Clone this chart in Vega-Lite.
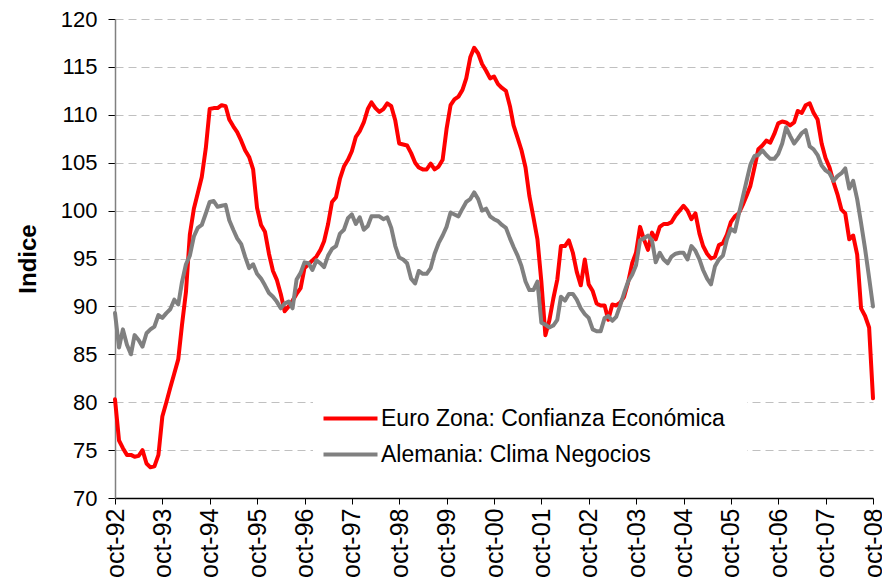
{
  "$schema": "https://vega.github.io/schema/vega-lite/v6.json",
  "width": 758,
  "height": 479,
  "autosize": {"type": "none"},
  "padding": {"left": 115, "top": 19, "right": 9, "bottom": 89},
  "background": "white",
  "config": {"view": {"stroke": null}, "font": "Liberation Sans"},
  "data": {"values": [
    {"fecha":"1992-10","ez":80.3,"de":89.3},{"fecha":"1992-11","ez":76.0,"de":85.7},{"fecha":"1992-12","ez":75.2,"de":87.6},
    {"fecha":"1993-01","ez":74.5,"de":86.0},{"fecha":"1993-02","ez":74.5,"de":85.0},{"fecha":"1993-03","ez":74.3,"de":87.0},{"fecha":"1993-04","ez":74.4,"de":86.5},{"fecha":"1993-05","ez":75.0,"de":85.8},{"fecha":"1993-06","ez":73.6,"de":87.2},{"fecha":"1993-07","ez":73.2,"de":87.6},{"fecha":"1993-08","ez":73.3,"de":87.9},{"fecha":"1993-09","ez":74.5,"de":89.1},{"fecha":"1993-10","ez":78.5,"de":88.8},{"fecha":"1993-11","ez":80.0,"de":89.3},{"fecha":"1993-12","ez":81.5,"de":89.7},
    {"fecha":"1994-01","ez":83.0,"de":90.7},{"fecha":"1994-02","ez":84.5,"de":90.2},{"fecha":"1994-03","ez":88.0,"de":92.5},{"fecha":"1994-04","ez":91.5,"de":94.4},{"fecha":"1994-05","ez":97.5,"de":95.3},{"fecha":"1994-06","ez":100.2,"de":97.3},{"fecha":"1994-07","ez":101.8,"de":98.2},{"fecha":"1994-08","ez":103.5,"de":98.5},{"fecha":"1994-09","ez":106.5,"de":99.7},{"fecha":"1994-10","ez":110.6,"de":100.9},{"fecha":"1994-11","ez":110.7,"de":101.0},{"fecha":"1994-12","ez":110.7,"de":100.4},
    {"fecha":"1995-01","ez":111.0,"de":100.5},{"fecha":"1995-02","ez":110.9,"de":100.6},{"fecha":"1995-03","ez":109.5,"de":99.0},{"fecha":"1995-04","ez":108.8,"de":98.0},{"fecha":"1995-05","ez":108.2,"de":97.1},{"fecha":"1995-06","ez":107.3,"de":96.5},{"fecha":"1995-07","ez":106.3,"de":95.2},{"fecha":"1995-08","ez":105.6,"de":94.0},{"fecha":"1995-09","ez":104.3,"de":94.4},{"fecha":"1995-10","ez":100.3,"de":93.4},{"fecha":"1995-11","ez":98.5,"de":92.9},{"fecha":"1995-12","ez":97.8,"de":92.2},
    {"fecha":"1996-01","ez":95.5,"de":91.4},{"fecha":"1996-02","ez":93.7,"de":91.0},{"fecha":"1996-03","ez":92.8,"de":90.5},{"fecha":"1996-04","ez":91.3,"de":89.8},{"fecha":"1996-05","ez":89.5,"de":90.3},{"fecha":"1996-06","ez":90.0,"de":90.5},{"fecha":"1996-07","ez":90.6,"de":89.8},{"fecha":"1996-08","ez":91.3,"de":92.8},{"fecha":"1996-09","ez":91.9,"de":93.5},{"fecha":"1996-10","ez":94.0,"de":94.6},{"fecha":"1996-11","ez":94.4,"de":94.5},{"fecha":"1996-12","ez":94.8,"de":93.8},
    {"fecha":"1997-01","ez":95.2,"de":94.8},{"fecha":"1997-02","ez":95.9,"de":94.5},{"fecha":"1997-03","ez":96.8,"de":94.1},{"fecha":"1997-04","ez":98.6,"de":95.3},{"fecha":"1997-05","ez":100.9,"de":96.0},{"fecha":"1997-06","ez":101.4,"de":96.3},{"fecha":"1997-07","ez":103.3,"de":97.6},{"fecha":"1997-08","ez":104.6,"de":98.0},{"fecha":"1997-09","ez":105.3,"de":99.2},{"fecha":"1997-10","ez":106.2,"de":99.6},{"fecha":"1997-11","ez":107.7,"de":98.6},{"fecha":"1997-12","ez":108.3,"de":99.3},
    {"fecha":"1998-01","ez":109.2,"de":98.0},{"fecha":"1998-02","ez":110.6,"de":98.4},{"fecha":"1998-03","ez":111.3,"de":99.4},{"fecha":"1998-04","ez":110.7,"de":99.4},{"fecha":"1998-05","ez":110.3,"de":99.4},{"fecha":"1998-06","ez":110.6,"de":99.1},{"fecha":"1998-07","ez":111.2,"de":99.3},{"fecha":"1998-08","ez":110.9,"de":98.2},{"fecha":"1998-09","ez":109.4,"de":96.3},{"fecha":"1998-10","ez":107.0,"de":95.1},{"fecha":"1998-11","ez":106.9,"de":94.9},{"fecha":"1998-12","ez":106.8,"de":94.5},
    {"fecha":"1999-01","ez":106.0,"de":92.9},{"fecha":"1999-02","ez":105.0,"de":92.4},{"fecha":"1999-03","ez":104.5,"de":93.7},{"fecha":"1999-04","ez":104.3,"de":93.4},{"fecha":"1999-05","ez":104.3,"de":93.4},{"fecha":"1999-06","ez":104.9,"de":94.0},{"fecha":"1999-07","ez":104.3,"de":95.5},{"fecha":"1999-08","ez":104.6,"de":96.6},{"fecha":"1999-09","ez":105.3,"de":97.4},{"fecha":"1999-10","ez":108.5,"de":98.3},{"fecha":"1999-11","ez":111.0,"de":99.8},{"fecha":"1999-12","ez":111.6,"de":99.6},
    {"fecha":"2000-01","ez":111.9,"de":99.4},{"fecha":"2000-02","ez":112.6,"de":100.2},{"fecha":"2000-03","ez":113.8,"de":100.9},{"fecha":"2000-04","ez":116.0,"de":101.2},{"fecha":"2000-05","ez":117.0,"de":101.9},{"fecha":"2000-06","ez":116.4,"de":101.2},{"fecha":"2000-07","ez":115.3,"de":100.0},{"fecha":"2000-08","ez":114.6,"de":100.2},{"fecha":"2000-09","ez":113.8,"de":99.4},{"fecha":"2000-10","ez":114.0,"de":99.1},{"fecha":"2000-11","ez":113.2,"de":98.9},{"fecha":"2000-12","ez":112.8,"de":98.5},
    {"fecha":"2001-01","ez":112.5,"de":98.2},{"fecha":"2001-02","ez":110.9,"de":97.1},{"fecha":"2001-03","ez":108.9,"de":96.2},{"fecha":"2001-04","ez":107.6,"de":95.3},{"fecha":"2001-05","ez":106.3,"de":94.2},{"fecha":"2001-06","ez":104.5,"de":92.6},{"fecha":"2001-07","ez":101.5,"de":91.7},{"fecha":"2001-08","ez":99.3,"de":91.7},{"fecha":"2001-09","ez":97.0,"de":92.6},{"fecha":"2001-10","ez":92.6,"de":88.3},{"fecha":"2001-11","ez":87.0,"de":88.1},{"fecha":"2001-12","ez":88.5,"de":87.8},
    {"fecha":"2002-01","ez":90.8,"de":88.0},{"fecha":"2002-02","ez":92.8,"de":88.6},{"fecha":"2002-03","ez":96.3,"de":91.0},{"fecha":"2002-04","ez":96.3,"de":90.6},{"fecha":"2002-05","ez":96.9,"de":91.3},{"fecha":"2002-06","ez":95.6,"de":91.3},{"fecha":"2002-07","ez":93.6,"de":90.7},{"fecha":"2002-08","ez":92.2,"de":89.8},{"fecha":"2002-09","ez":94.9,"de":89.2},{"fecha":"2002-10","ez":92.3,"de":88.8},{"fecha":"2002-11","ez":91.6,"de":87.6},{"fecha":"2002-12","ez":90.3,"de":87.4},
    {"fecha":"2003-01","ez":90.1,"de":87.4},{"fecha":"2003-02","ez":90.1,"de":88.8},{"fecha":"2003-03","ez":88.6,"de":89.0},{"fecha":"2003-04","ez":90.2,"de":88.5},{"fecha":"2003-05","ez":90.1,"de":88.9},{"fecha":"2003-06","ez":90.4,"de":90.1},{"fecha":"2003-07","ez":91.0,"de":91.4},{"fecha":"2003-08","ez":92.5,"de":92.6},{"fecha":"2003-09","ez":94.5,"de":93.3},{"fecha":"2003-10","ez":95.6,"de":94.3},{"fecha":"2003-11","ez":98.3,"de":96.9},{"fecha":"2003-12","ez":97.0,"de":97.1},
    {"fecha":"2004-01","ez":95.9,"de":97.4},{"fecha":"2004-02","ez":97.7,"de":96.9},{"fecha":"2004-03","ez":97.0,"de":94.6},{"fecha":"2004-04","ez":98.3,"de":95.6},{"fecha":"2004-05","ez":98.6,"de":94.9},{"fecha":"2004-06","ez":98.6,"de":94.5},{"fecha":"2004-07","ez":98.8,"de":95.2},{"fecha":"2004-08","ez":99.5,"de":95.5},{"fecha":"2004-09","ez":100.0,"de":95.6},{"fecha":"2004-10","ez":100.5,"de":95.6},{"fecha":"2004-11","ez":100.0,"de":94.9},{"fecha":"2004-12","ez":99.1,"de":96.3},
    {"fecha":"2005-01","ez":99.7,"de":95.8},{"fecha":"2005-02","ez":97.6,"de":94.9},{"fecha":"2005-03","ez":96.3,"de":93.8},{"fecha":"2005-04","ez":95.5,"de":92.9},{"fecha":"2005-05","ez":95.0,"de":92.3},{"fecha":"2005-06","ez":95.2,"de":94.2},{"fecha":"2005-07","ez":96.4,"de":94.9},{"fecha":"2005-08","ez":96.6,"de":95.3},{"fecha":"2005-09","ez":97.5,"de":97.0},{"fecha":"2005-10","ez":98.8,"de":98.1},{"fecha":"2005-11","ez":99.4,"de":97.8},{"fecha":"2005-12","ez":99.7,"de":99.6},
    {"fecha":"2006-01","ez":100.6,"de":101.4},{"fecha":"2006-02","ez":101.6,"de":103.2},{"fecha":"2006-03","ez":102.6,"de":104.8},{"fecha":"2006-04","ez":104.5,"de":105.7},{"fecha":"2006-05","ez":106.4,"de":105.8},{"fecha":"2006-06","ez":106.8,"de":106.3},{"fecha":"2006-07","ez":107.3,"de":105.8},{"fecha":"2006-08","ez":107.1,"de":105.4},{"fecha":"2006-09","ez":108.0,"de":105.4},{"fecha":"2006-10","ez":109.1,"de":105.9},{"fecha":"2006-11","ez":109.3,"de":107.0},{"fecha":"2006-12","ez":109.2,"de":108.7},
    {"fecha":"2007-01","ez":108.9,"de":107.8},{"fecha":"2007-02","ez":109.2,"de":107.0},{"fecha":"2007-03","ez":110.4,"de":107.5},{"fecha":"2007-04","ez":110.2,"de":108.1},{"fecha":"2007-05","ez":111.0,"de":108.4},{"fecha":"2007-06","ez":111.2,"de":106.7},{"fecha":"2007-07","ez":110.2,"de":106.4},{"fecha":"2007-08","ez":109.5,"de":105.8},{"fecha":"2007-09","ez":107.0,"de":104.7},{"fecha":"2007-10","ez":105.5,"de":104.2},{"fecha":"2007-11","ez":104.5,"de":103.9},{"fecha":"2007-12","ez":103.0,"de":103.1},
    {"fecha":"2008-01","ez":101.7,"de":103.6},{"fecha":"2008-02","ez":100.1,"de":103.9},{"fecha":"2008-03","ez":99.7,"de":104.4},{"fecha":"2008-04","ez":97.0,"de":102.3},{"fecha":"2008-05","ez":97.4,"de":103.1},{"fecha":"2008-06","ez":95.4,"de":101.2},{"fecha":"2008-07","ez":89.8,"de":98.7},{"fecha":"2008-08","ez":89.0,"de":96.0},{"fecha":"2008-09","ez":87.8,"de":93.0},{"fecha":"2008-10","ez":80.4,"de":90.0}
  ]},
  "transform": [{"fold": ["ez", "de"], "as": ["serie", "valor"]}],
  "mark": {"type": "line", "strokeWidth": 4, "strokeJoin": "round", "strokeCap": "round"},
  "encoding": {
    "x": {
      "field": "fecha", "type": "temporal",
      "scale": {"type": "utc", "domain": [{"year": 1992, "month": 10, "date": 1, "utc": true}, {"year": 2008, "month": 10, "date": 1, "utc": true}]},
      "axis": {
        "title": null, "grid": false,
        "values": [
          {"year": 1992, "month": 10, "date": 1, "utc": true}, {"year": 1993, "month": 10, "date": 1, "utc": true},
          {"year": 1994, "month": 10, "date": 1, "utc": true}, {"year": 1995, "month": 10, "date": 1, "utc": true},
          {"year": 1996, "month": 10, "date": 1, "utc": true}, {"year": 1997, "month": 10, "date": 1, "utc": true},
          {"year": 1998, "month": 10, "date": 1, "utc": true}, {"year": 1999, "month": 10, "date": 1, "utc": true},
          {"year": 2000, "month": 10, "date": 1, "utc": true}, {"year": 2001, "month": 10, "date": 1, "utc": true},
          {"year": 2002, "month": 10, "date": 1, "utc": true}, {"year": 2003, "month": 10, "date": 1, "utc": true},
          {"year": 2004, "month": 10, "date": 1, "utc": true}, {"year": 2005, "month": 10, "date": 1, "utc": true},
          {"year": 2006, "month": 10, "date": 1, "utc": true}, {"year": 2007, "month": 10, "date": 1, "utc": true},
          {"year": 2008, "month": 10, "date": 1, "utc": true}
        ],
        "labelExpr": "lower(utcFormat(datum.value, '%b-%y'))",
        "labelAngle": 270, "labelAlign": "right", "labelBaseline": "middle",
        "labelFont": "Liberation Sans", "labelFontSize": 25, "labelColor": "black",
        "labelPadding": 4, "labelOverlap": false, "labelFlush": false,
        "tickSize": 6, "tickColor": "black", "tickWidth": 1,
        "domainColor": "black", "domainWidth": 1.5
      }
    },
    "y": {
      "field": "valor", "type": "quantitative",
      "scale": {"domain": [70, 120], "nice": false, "zero": false},
      "axis": {
        "title": "Indice", "titleFont": "Liberation Sans", "titleFontSize": 24, "titleFontWeight": "bold", "titleColor": "black", "titlePadding": 20,
        "values": [70, 75, 80, 85, 90, 95, 100, 105, 110, 115, 120],
        "labelFont": "Liberation Sans", "labelFontSize": 22, "labelColor": "black", "labelPadding": 11,
        "tickSize": 7, "tickColor": "black",
        "domainColor": "#808080", "domainWidth": 1.5,
        "grid": true, "gridColor": "#c0c0c0", "gridDash": [8, 5], "gridWidth": 1
      }
    },
    "color": {
      "field": "serie", "type": "nominal",
      "scale": {"domain": ["ez", "de"], "range": ["#ff0000", "#808080"]},
      "legend": {
        "title": null, "orient": "none", "legendX": 198, "legendY": 362, "padding": 22,
        "fillColor": "white",
        "labelExpr": "datum.label == 'ez' ? 'Euro Zona: Confianza Económica' : 'Alemania: Clima Negocios'",
        "labelFont": "Liberation Sans", "labelFontSize": 23, "labelColor": "black", "labelLimit": 500, "labelOffset": 15,
        "symbolType": "M-2,0H2", "symbolSize": 729, "symbolStrokeWidth": 4, "rowPadding": 8
      }
    }
  }
}
